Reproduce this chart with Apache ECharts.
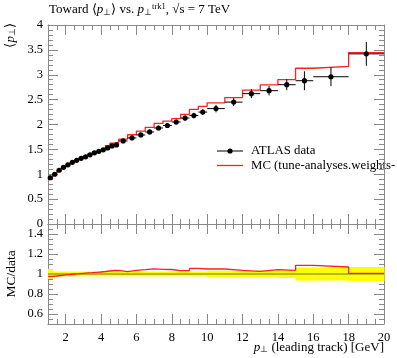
<!DOCTYPE html>
<html><head><meta charset="utf-8">
<script src="https://cdn.jsdelivr.net/npm/echarts@6/dist/echarts.min.js"></script>
<style>html,body{margin:0;padding:0;background:#fff}#c{width:397px;height:358px}</style>
</head><body><div id="c"></div>
<script>
// Bin edges (GeV) for leading-track pT
const binEdges = [1,1.25,1.5,1.75,2,2.25,2.5,2.75,3,3.25,3.5,3.75,4,4.25,4.5,4.75,5,5.5,6,6.5,7,7.5,8,8.5,9,9.5,10,11,12,13,14,15,16,18,20];
// ATLAS data <pT> per bin
const dataValues = [0.93,1.00,1.08,1.14,1.19,1.24,1.28,1.32,1.35,1.39,1.43,1.46,1.49,1.53,1.57,1.59,1.67,1.73,1.79,1.85,1.93,1.98,2.05,2.13,2.18,2.25,2.32,2.45,2.62,2.68,2.80,2.88,2.96,3.42];
// ATLAS data uncertainties
const dataErrors = [0.046,0.025,0.026,0.027,0.028,0.029,0.030,0.031,0.032,0.033,0.034,0.035,0.036,0.037,0.038,0.038,0.040,0.042,0.043,0.045,0.047,0.048,0.050,0.052,0.054,0.056,0.075,0.080,0.090,0.095,0.110,0.190,0.190,0.240];
// MC prediction per bin
const mcValues = [0.907,0.980,1.064,1.129,1.184,1.240,1.284,1.329,1.364,1.408,1.454,1.489,1.527,1.576,1.625,1.646,1.708,1.794,1.867,1.943,2.021,2.069,2.118,2.205,2.304,2.363,2.436,2.541,2.691,2.795,2.904,3.131,3.167,3.444];
const mainYTicks = {min:0, max:4, interval:0.5};
const ratioYRange = {min:0.5, max:1.5};

const FONT = "'Liberation Serif', serif";
const AX = '#888';
const nb = dataValues.length;
const xMin = binEdges[0], xMax = binEdges[nb];

const dataPts = dataValues.map((v,i)=>[(binEdges[i]+binEdges[i+1])/2, v, binEdges[i], binEdges[i+1], dataErrors[i]]);
const mcStep = mcValues.map((v,i)=>[binEdges[i], v]).concat([[binEdges[nb], mcValues[nb-1]]]);
const ratioStep = mcValues.map((v,i)=>[binEdges[i], v/dataValues[i]]).concat([[binEdges[nb], mcValues[nb-1]/dataValues[nb-1]]]);
const band = dataValues.map((v,i)=>[binEdges[i], binEdges[i+1], 1+dataErrors[i]/v, 1-dataErrors[i]/v]);

function xAx(grid, pos, labels){
  return {type:'value', gridIndex:grid, position:pos, min:xMin, max:xMax, splitNumber:10,
    axisLine:{show:true, onZero:false, lineStyle:{color:AX, width:1}},
    axisTick:{show:true, inside:true, length:10, lineStyle:{color:AX}},
    minorTick:{show:true, splitNumber:4, length:5, lineStyle:{color:AX}},
    axisLabel:{show:labels, margin:7, fontFamily:FONT, fontSize:12.5, color:'#000',
      formatter:v=> (v===xMin ? '' : String(v))},
    splitLine:{show:false}, minorSplitLine:{show:false}};
}
function yMain(pos, labels){
  return {type:'value', gridIndex:0, position:pos, min:mainYTicks.min, max:mainYTicks.max, interval:mainYTicks.interval,
    axisLine:{show:true, onZero:false, lineStyle:{color:AX}},
    axisTick:{show:true, inside:true, length:10, lineStyle:{color:AX}},
    minorTick:{show:true, splitNumber:5, length:5, lineStyle:{color:AX}},
    axisLabel:{show:labels, margin:5, fontFamily:FONT, fontSize:12.5, color:'#000', showMinLabel:true, showMaxLabel:true},
    splitLine:{show:false}};
}
function yRatio(pos, labels){
  return {type:'value', gridIndex:1, position:pos, min:ratioYRange.min, max:ratioYRange.max, splitNumber:5,
    axisLine:{show:true, onZero:false, lineStyle:{color:AX}},
    axisTick:{show:true, inside:true, length:10, lineStyle:{color:AX}},
    minorTick:{show:true, splitNumber:4, length:5, lineStyle:{color:AX}},
    axisLabel:{show:labels, margin:5, fontFamily:FONT, fontSize:12.5, color:'#000',
      formatter:v=> (Math.abs(v-ratioYRange.min)<1e-6 || Math.abs(v-ratioYRange.max)<1e-6) ? '' : String(+v.toFixed(2))},
    splitLine:{show:false}};
}

const chart = echarts.init(document.getElementById('c'), null, {renderer:'canvas'});
chart.setOption({
  animation:false,
  backgroundColor:'#fff',
  grid:[
    {left:48, right:13, top:25, height:199, outerBoundsMode:'none', containLabel:false},
    {left:48, right:13, top:224, height:100, outerBoundsMode:'none', containLabel:false}
  ],
  xAxis:[xAx(0,'bottom',false), xAx(0,'top',false), xAx(1,'bottom',true), xAx(1,'top',false)],
  yAxis:[yMain('left',true), yMain('right',false), yRatio('left',true), yRatio('right',false)],
  series:[
    {type:'line', xAxisIndex:0, yAxisIndex:0, data:mcStep, step:'end', showSymbol:false, symbol:'none',
      lineStyle:{color:'#ff2020', width:1.3}, z:2},
    {type:'custom', xAxisIndex:0, yAxisIndex:0, data:dataPts, encode:{x:0, y:1}, z:3,
      renderItem:(params, api)=>{
        const x=api.value(0), y=api.value(1), lo=api.value(2), hi=api.value(3), e=api.value(4);
        const c=api.coord([x,y]), l=api.coord([lo,y]), r=api.coord([hi,y]);
        const t=api.coord([x,y+e]), b=api.coord([x,y-e]);
        return {type:'group', children:[
          {type:'line', shape:{x1:l[0],y1:c[1],x2:r[0],y2:c[1]}, style:{stroke:'#000',lineWidth:1}},
          {type:'line', shape:{x1:c[0],y1:t[1],x2:c[0],y2:b[1]}, style:{stroke:'#000',lineWidth:1}},
          {type:'circle', shape:{cx:c[0],cy:c[1],r:2.6}, style:{fill:'#000'}}
        ]};
      }},
    {type:'custom', xAxisIndex:2, yAxisIndex:2, data:band, encode:{x:[0,1], y:[2,3]}, z:1,
      renderItem:(params, api)=>{
        const p0=api.coord([api.value(0), api.value(2)]);
        const p1=api.coord([api.value(1), api.value(3)]);
        return {type:'rect', shape:{x:p0[0], y:p0[1], width:p1[0]-p0[0]+0.5, height:p1[1]-p0[1]}, style:{fill:'#ffff00'}};
      }},
    {type:'line', xAxisIndex:2, yAxisIndex:2, data:[[xMin,1],[xMax,1]], showSymbol:false, symbol:'none',
      lineStyle:{color:'#6b6b50', width:1}, z:2},
    {type:'line', xAxisIndex:2, yAxisIndex:2, data:ratioStep, step:'end', showSymbol:false, symbol:'none',
      lineStyle:{color:'#ff2020', width:1.3}, z:3}
  ],
  graphic:[
    {type:'text', left:49, top:2, style:{
      text:'Toward ⟨{i|p}{sb|⊥}⟩ vs. {i|p}{sb|⊥}{sp|trk1}, √s = 7 TeV',
      font:'13px '+FONT, fill:'#000', lineHeight:15,
      rich:{i:{fontFamily:FONT, fontSize:13, fontStyle:'italic', lineHeight:15},
            sb:{fontFamily:FONT, fontSize:8.5, verticalAlign:'bottom', lineHeight:9},
            sp:{fontFamily:FONT, fontSize:8.5, verticalAlign:'top', lineHeight:9}}}},
    {type:'text', x:11, y:23, rotation:Math.PI/2, style:{
      text:'⟨{i|p}{sb|⊥}⟩', font:'13px '+FONT, fill:'#000', align:'right', verticalAlign:'middle',
      rich:{i:{fontFamily:FONT, fontSize:13, fontStyle:'italic'}, sb:{fontFamily:FONT, fontSize:8.5, verticalAlign:'bottom', lineHeight:8}}}},
    {type:'text', x:11, y:274, rotation:Math.PI/2, style:{
      text:'MC/data', font:'13.5px '+FONT, fill:'#000', align:'center', verticalAlign:'middle'}},
    {type:'text', x:384, y:348, style:{
      text:'{i|p}{sb|⊥} (leading track) [GeV]', font:'13px '+FONT, fill:'#000', align:'right', verticalAlign:'middle',
      rich:{i:{fontFamily:FONT, fontSize:13, fontStyle:'italic'}, sb:{fontFamily:FONT, fontSize:8.5, verticalAlign:'bottom', lineHeight:8}}}},
    {type:'line', shape:{x1:217,y1:151,x2:243,y2:151}, style:{stroke:'#000', lineWidth:1}},
    {type:'circle', shape:{cx:230,cy:151,r:2.6}, style:{fill:'#000'}},
    {type:'text', x:251, y:151, style:{text:'ATLAS data', font:'12.8px '+FONT, fill:'#000', verticalAlign:'middle'}},
    {type:'line', shape:{x1:217,y1:165.5,x2:243,y2:165.5}, style:{stroke:'#ff2020', lineWidth:1.3}},
    {type:'text', x:251, y:165.5, style:{text:'MC (tune-analyses.weights-', font:'12.8px '+FONT, fill:'#000', verticalAlign:'middle'}}
  ]
});
</script></body></html>
